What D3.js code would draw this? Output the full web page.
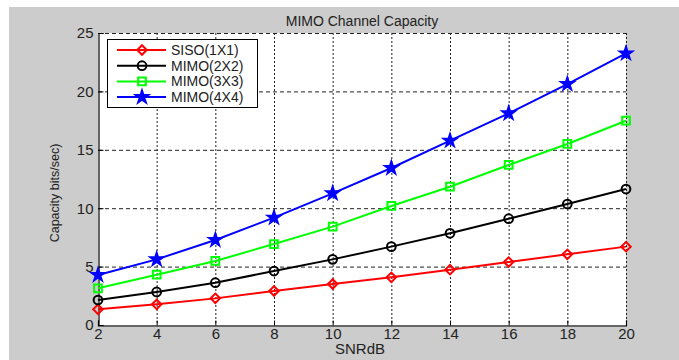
<html>
<head>
  <meta charset="utf-8">
  <script src="https://d3js.org/d3.v7.min.js"></script>
  <style>
    body { margin: 0; background: white; }
    text { font-family: "Liberation Sans", Arial, sans-serif; fill: #222; }
  </style>
  <script>
    // values
    var snr = [2, 4, 6, 8, 10, 12, 14, 16, 18, 20];
    var siso = [1.34, 1.77, 2.28, 2.91, 3.51, 4.08, 4.74, 5.39, 6.05, 6.71];
    var mimo2 = [2.14, 2.83, 3.62, 4.62, 5.62, 6.71, 7.85, 9.10, 10.36, 11.64];
    var mimo3 = [3.14, 4.31, 5.48, 6.93, 8.42, 10.19, 11.84, 13.70, 15.50, 17.49];
    var mimo4 = [4.28, 5.62, 7.28, 9.19, 11.27, 13.44, 15.78, 18.12, 20.63, 23.25];
    var names = ["SISO(1X1)", "MIMO(2X2)", "MIMO(3X3)", "MIMO(4X4)"];
    var colors = ["#ff0000", "#000000", "#00ff00", "#0000ff"];
    var yTicks = [0, 5, 10, 15, 20, 25];

    function drawChart() {
      var svg = d3.select("#chart");
      var left = 98, right = 626, top = 33, bottom = 325;

      svg.append("rect").attr("x", 9).attr("y", 7).attr("width", 670).attr("height", 353)
          .attr("fill", "#cccccc");
      svg.append("rect").attr("x", left).attr("y", top).attr("width", right - left)
          .attr("height", bottom - top).attr("fill", "white");

      var x = d3.scaleLinear().domain([2, 20]).range([left, right]);
      var y = d3.scaleLinear().domain([0, 25]).range([bottom, top]);

      // grid
      var grid = svg.append("g");
      grid.selectAll(".gx").data(snr.slice(1)).enter().append("line")
          .attr("x1", d => x(d) + 0.5).attr("x2", d => x(d) + 0.5)
          .attr("y1", top).attr("y2", bottom)
          .attr("stroke", "#222").attr("stroke-width", 1).attr("stroke-dasharray", "2,2");
      grid.selectAll(".gy").data(yTicks.slice(1)).enter().append("line")
          .attr("x1", left).attr("x2", right)
          .attr("y1", d => y(d) + 0.5).attr("y2", d => y(d) + 0.5)
          .attr("stroke", "#222").attr("stroke-width", 1).attr("stroke-dasharray", "4,3");

      // axes
      var xAxis = d3.axisBottom(x).tickValues(snr).tickSize(-5).tickPadding(3);
      var yAxis = d3.axisLeft(y).tickValues(yTicks).tickSize(-5).tickPadding(5);
      var gx = svg.append("g").attr("transform", "translate(0," + (bottom + 0.5) + ")").call(xAxis);
      var gy = svg.append("g").attr("transform", "translate(" + (left + 0.5) + ",0)").call(yAxis);
      [gx, gy].forEach(function (g) {
        g.select(".domain").attr("stroke", "#000").attr("stroke-width", 1.2);
        g.selectAll(".tick line").attr("stroke", "#000");
        g.selectAll(".tick text").attr("font-size", 15).attr("fill", "#222")
            .attr("font-family", "Liberation Sans, Arial, sans-serif");
      });

      var series = [siso, mimo2, mimo3, mimo4];
      var line = d3.line().x((d, i) => x(snr[i])).y(d => y(d));

      var markers = [
        d3.symbol().type(d3.symbolSquare).size(45),
        d3.symbol().type(d3.symbolCircle).size(60),
        d3.symbol().type(d3.symbolSquare).size(60),
        d3.symbol().type(d3.symbolStar).size(48)
      ];
      var rot = [45, 0, 0, 0];

      function drawMarker(g, k, cx, cy) {
        g.append("path").attr("d", markers[k]())
            .attr("transform", "translate(" + cx + "," + cy + ") rotate(" + rot[k] + ")")
            .attr("fill", k == 3 ? colors[k] : "none")
            .attr("stroke", colors[k]).attr("stroke-width", 2);
      }

      series.forEach(function (vals, k) {
        var g = svg.append("g");
        g.append("path").datum(vals).attr("d", line)
            .attr("fill", "none").attr("stroke", colors[k]).attr("stroke-width", 2);
        vals.forEach(function (v, i) { drawMarker(g, k, x(snr[i]), y(v)); });
      });

      // legend
      var lg = svg.append("g");
      lg.append("rect").attr("x", 107.5).attr("y", 39.5).attr("width", 150).attr("height", 68)
          .attr("fill", "white").attr("stroke", "#000").attr("stroke-width", 1);
      names.forEach(function (n, k) {
        var ly = 50 + k * 15.7;
        lg.append("line").attr("x1", 117).attr("x2", 166).attr("y1", ly).attr("y2", ly)
            .attr("stroke", colors[k]).attr("stroke-width", 2);
        drawMarker(lg, k, 142, ly);
        lg.append("text").attr("x", 171).attr("y", ly + 5).attr("font-size", 14).text(n);
      });

      svg.append("text").attr("x", 362).attr("y", 26).attr("text-anchor", "middle")
          .attr("font-size", 14).text("MIMO Channel Capacity");
      svg.append("text").attr("x", 360).attr("y", 354).attr("text-anchor", "middle")
          .attr("font-size", 15).text("SNRdB");
      svg.append("text").attr("transform", "translate(59,193) rotate(-90)")
          .attr("text-anchor", "middle").attr("font-size", 12.5).text("Capacity bits/sec)");
    }
  </script>
</head>
<body onload="drawChart()">
  <svg id="chart" width="679" height="360"></svg>
</body>
</html>
